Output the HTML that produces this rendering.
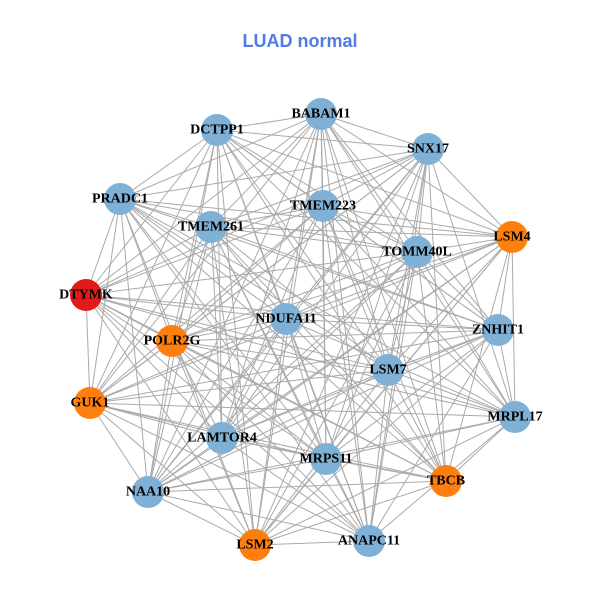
<!DOCTYPE html>
<html><head><meta charset="utf-8"><style>
html,body{margin:0;padding:0;background:#fff;}
svg{display:block;}
.l{font-family:"Liberation Serif",serif;font-weight:bold;font-size:14px;fill:#000;text-anchor:middle;dominant-baseline:central;}
</style></head><body>
<svg id="s" width="600" height="600" viewBox="0 0 600 600">
<rect width="600" height="600" fill="#fff"/>
<text x="300" y="47" font-family="Liberation Sans, sans-serif" font-weight="bold" font-size="18" fill="#4f7be8" text-anchor="middle">LUAD normal</text>
<g id="edges" stroke="#aaaaaa" stroke-width="1" fill="none"></g>
<g id="nodes"></g>
<g>
<text class="l" x="321" y="114">BABAM1</text>
<text class="l" x="217" y="130">DCTPP1</text>
<text class="l" x="428" y="149">SNX17</text>
<text class="l" x="120" y="199">PRADC1</text>
<text class="l" x="323" y="206">TMEM223</text>
<text class="l" x="211" y="227">TMEM261</text>
<text class="l" x="512" y="237">LSM4</text>
<text class="l" x="417" y="252">TOMM40L</text>
<text class="l" x="86" y="295">DTYMK</text>
<text class="l" x="286" y="319">NDUFA11</text>
<text class="l" x="498" y="330">ZNHIT1</text>
<text class="l" x="172" y="341">POLR2G</text>
<text class="l" x="388" y="370">LSM7</text>
<text class="l" x="90" y="403">GUK1</text>
<text class="l" x="515" y="417">MRPL17</text>
<text class="l" x="222" y="438">LAMTOR4</text>
<text class="l" x="326" y="459">MRPS11</text>
<text class="l" x="446" y="481">TBCB</text>
<text class="l" x="148" y="492">NAA10</text>
<text class="l" x="369" y="541">ANAPC11</text>
<text class="l" x="255" y="545">LSM2</text>
</g>
</svg>
<script>
var N=[[321,114,0],[217,130,0],[428,149,0],[120,199,0],[323,206,0],[211,227,0],[512,237,1],[417,252,0],[86,295,2],[286,319,0],[498,330,0],[172,341,1],[388,370,0],[90,403,1],[515,417,0],[222,438,0],[326,459,0],[446,481,1],[148,492,0],[369,541,0],[255,545,1]];
var C=["#7fb0d6","#ff7f0e","#e31a1c"];
var ns="http://www.w3.org/2000/svg";
var E=document.getElementById("edges"),G=document.getElementById("nodes");
for(var i=0;i<N.length;i++)for(var j=i+1;j<N.length;j++){
 if((i*7+j*3)%11==0)continue;
 var l=document.createElementNS(ns,"line");
 l.setAttribute("x1",N[i][0]);l.setAttribute("y1",N[i][1]);
 l.setAttribute("x2",N[j][0]);l.setAttribute("y2",N[j][1]);
 E.appendChild(l);}
for(var i=0;i<N.length;i++){
 var c=document.createElementNS(ns,"circle");
 c.setAttribute("cx",N[i][0]);c.setAttribute("cy",N[i][1]);c.setAttribute("r",16);
 c.setAttribute("fill",C[N[i][2]]);G.appendChild(c);}
</script>
</body></html>
